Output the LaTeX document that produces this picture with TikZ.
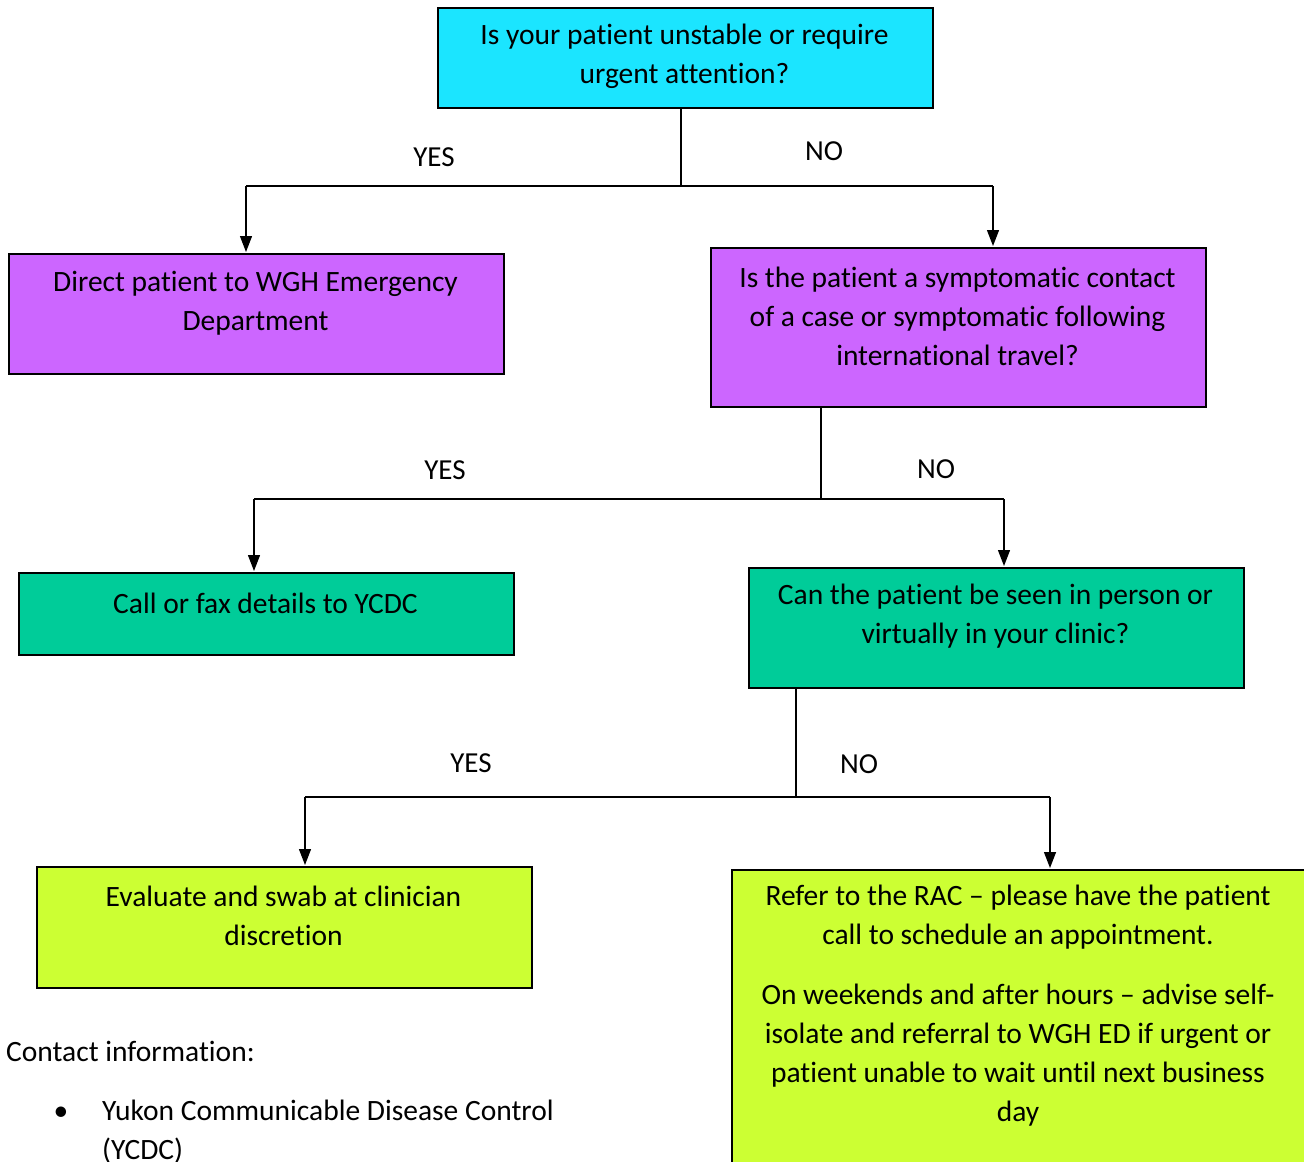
\documentclass[tikz,border=0pt]{standalone}
\usepackage{fontspec}
\setmainfont{Carlito}[Ligatures={NoCommon}]
\usetikzlibrary{arrows.meta}
\definecolor{cyanbox}{HTML}{1BE5FF}
\definecolor{purplebox}{HTML}{CC66FF}
\definecolor{greenbox}{HTML}{00CC99}
\definecolor{limebox}{HTML}{CCFF33}
\tikzset{
  box/.style={draw=black, line width=2pt, rectangle, anchor=north west, inner sep=0pt},
  txt/.style={align=center, font=\fontsize{29.5}{39}\selectfont, inner sep=0pt},
  lab/.style={font=\fontsize{29}{32}\selectfont, inner sep=0pt},
  conn/.style={draw=black, line width=1.3pt},
  arr/.style={conn, -{Triangle[width=12pt,length=16pt]}, shorten >=1pt}
}
\begin{document}
\begin{tikzpicture}[x=1pt,y=-1pt]
\useasboundingbox (0,0) rectangle (1304,1162);
\fill[white] (0,0) rectangle (1304,1162);
% boxes
\node[box, fill=cyanbox, minimum width=495pt, minimum height=100pt] (b1) at (437,7) {};
\node[txt] (b1t) at (684.5,56) {Is your patient unstable or require\\urgent attention?};
\node[box, fill=purplebox, minimum width=495pt, minimum height=120pt] (b2) at (8,253) {};
\node[txt] (b2t) at (255.5,303) {Direct patient to WGH Emergency\\Department};
\node[box, fill=purplebox, minimum width=495pt, minimum height=159pt] (b3) at (710,247) {};
\node[txt] (b3t) at (957.5,316) {Is the patient a symptomatic contact\\of a case or symptomatic following\\international travel?};
\node[box, fill=greenbox, minimum width=495pt, minimum height=82pt] (b4) at (18,572) {};
\node[txt] (b4t) at (265.5,603) {Call or fax details to YCDC};
\node[box, fill=greenbox, minimum width=495pt, minimum height=120pt] (b5) at (748,567) {};
\node[txt] (b5t) at (995.5,616) {Can the patient be seen in person or\\virtually in your clinic?};
\node[box, fill=limebox, minimum width=495pt, minimum height=121pt] (b6) at (36,866) {};
\node[txt] (b6t) at (283.5,916) {Evaluate and swab at clinician\\discretion};
\node[box, fill=limebox, minimum width=576pt, minimum height=320pt] (b7) at (731,869) {};
\node[txt] (b7t) at (1018,1006) {Refer to the RAC -- please have the patient\\call to schedule an appointment.\\[21pt]On weekends and after hours -- advise self-\\isolate and referral to WGH ED if urgent or\\patient unable to wait until next business\\day};
% level 1 connectors
\coordinate (j1) at (681,186);
\coordinate (j1l) at (246,186);
\coordinate (j1r) at (993,186);
\draw[conn] (b1.south -| j1) -- (j1);
\draw[conn] (j1l) -- (j1r);
\draw[arr] (j1l) -- (j1l |- b2.north);
\draw[arr] (j1r) -- (j1r |- b3.north);
\node[lab] (y1) at (434,157) {YES};
\node[lab] (n1) at (824,151) {NO};
% level 2 connectors
\coordinate (j2) at (821,499);
\coordinate (j2l) at (254,499);
\coordinate (j2r) at (1004,499);
\draw[conn] (b3.south -| j2) -- (j2);
\draw[conn] (j2l) -- (j2r);
\draw[arr] (j2l) -- (j2l |- b4.north);
\draw[arr] (j2r) -- (j2r |- b5.north);
\node[lab] (y2) at (445,470) {YES};
\node[lab] (n2) at (936,469) {NO};
% level 3 connectors
\coordinate (j3) at (796,797);
\coordinate (j3l) at (305,797);
\coordinate (j3r) at (1050,797);
\draw[conn] (b5.south -| j3) -- (j3);
\draw[conn] (j3l) -- (j3r);
\draw[arr] (j3l) -- (j3l |- b6.north);
\draw[arr] (j3r) -- (j3r |- b7.north);
\node[lab] (y3) at (471,763) {YES};
\node[lab] (n3) at (859,764) {NO};
% contact info
\node[txt, anchor=west] (ci) at (6,1051) {Contact information:};
\node[txt] (bul) at (61,1114) {\textbullet};
\node[txt, anchor=north west, align=left] (yc) at (102,1100) {Yukon Communicable Disease Control\\(YCDC)};
\end{tikzpicture}
\end{document}
